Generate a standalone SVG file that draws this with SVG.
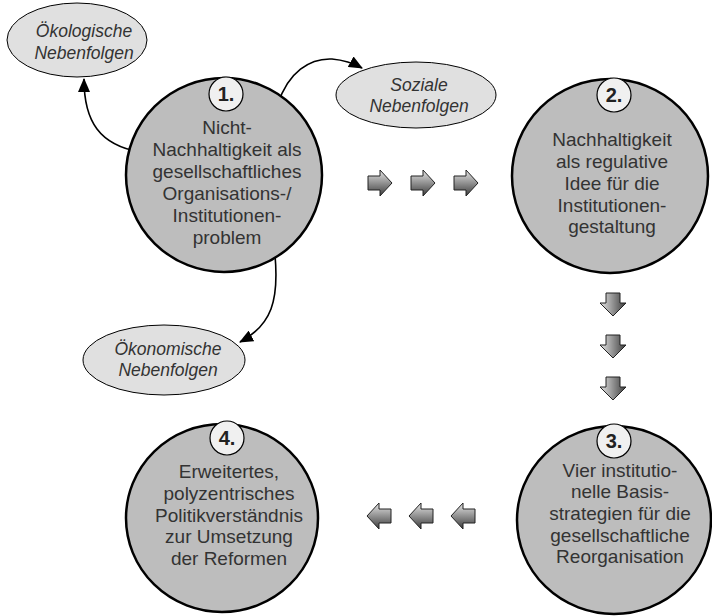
<svg xmlns="http://www.w3.org/2000/svg" width="712" height="616" viewBox="0 0 712 616">
<defs>
<linearGradient id="gv" x1="0" y1="0" x2="0" y2="1"><stop offset="0" stop-color="#e6e6e6"/><stop offset="1" stop-color="#3c3c3c"/></linearGradient>
<linearGradient id="gh" x1="0" y1="0" x2="1" y2="0"><stop offset="0" stop-color="#e6e6e6"/><stop offset="1" stop-color="#3c3c3c"/></linearGradient>
<marker id="ah" viewBox="0 0 14 12" refX="13" refY="6" markerWidth="14" markerHeight="12" markerUnits="userSpaceOnUse" orient="auto"><path d="M0,0 L14,6 L0,12 z" fill="#000"/></marker>
<path id="ar" d="M0,-7 L12,-7 L12,-13 L24,0 L12,13 L12,7 L0,7 z"/>
<path id="ad" d="M-7,0 L-7,10 L-13,10 L0,23 L13,10 L7,10 L7,0 z"/>
</defs>
<style>
.big{fill:#bdbdbd;stroke:#000;stroke-width:2.5}
.badge{fill:#f0f0f0;stroke:#000;stroke-width:1.2}
.bn{font-family:"Liberation Sans",Arial,sans-serif;font-weight:bold;font-size:20px;fill:#222;text-anchor:middle}
.t{font-family:"Liberation Sans",Arial,sans-serif;font-size:19px;fill:#333;text-anchor:middle}
.side{fill:#e0e0e0;stroke:#000;stroke-width:1}
.it{font-family:"Liberation Sans",Arial,sans-serif;font-style:italic;font-size:17.5px;fill:#333;text-anchor:middle}
.con{fill:none;stroke:#000;stroke-width:1.6;marker-end:url(#ah)}
.blk{stroke:#222;stroke-width:1}
</style>
<g id="connectors">
<path class="con" d="M140,152 C100,145 84,122 84,79"/>
<path class="con" d="M278,104 C288,72 310,58 332,59 C343,60 353,63 362,68"/>
<path class="con" d="M275,255 C279,300 272,325 240,342"/>
<g id="arrows-right">
<use href="#ar" x="368" y="183" fill="url(#gv)" class="blk"/>
<use href="#ar" x="411" y="183" fill="url(#gv)" class="blk"/>
<use href="#ar" x="454" y="183" fill="url(#gv)" class="blk"/>
</g>
<g id="arrows-down">
<use href="#ad" x="613" y="293" fill="url(#gh)" class="blk"/>
<use href="#ad" x="613" y="335" fill="url(#gh)" class="blk"/>
<use href="#ad" x="613" y="377" fill="url(#gh)" class="blk"/>
</g>
<g id="arrows-left">
<use href="#ar" transform="translate(475,516) scale(-1,1)" fill="url(#gv)" class="blk"/>
<use href="#ar" transform="translate(433,516) scale(-1,1)" fill="url(#gv)" class="blk"/>
<use href="#ar" transform="translate(391,516) scale(-1,1)" fill="url(#gv)" class="blk"/>
</g>
</g>
<g id="oeko">
<ellipse class="side" cx="77" cy="40" rx="70" ry="37"/>
<text class="it" x="84" y="37">Ökologische</text>
<text class="it" x="84" y="59">Nebenfolgen</text>
</g>
<g id="sozial">
<ellipse class="side" cx="416" cy="95" rx="80" ry="33"/>
<text class="it" x="419" y="91">Soziale</text>
<text class="it" x="419" y="112">Nebenfolgen</text>
</g>
<g id="oekonom">
<ellipse class="side" cx="164" cy="360" rx="81" ry="35"/>
<text class="it" x="168" y="355">Ökonomische</text>
<text class="it" x="168" y="376">Nebenfolgen</text>
</g>
<g id="n1">
<ellipse class="big" cx="224" cy="175" rx="98" ry="97"/>
<circle class="badge" cx="226" cy="94" r="17"/>
<text class="bn" x="226" y="101">1.</text>
<text class="t" x="227" y="134">Nicht-</text>
<text class="t" x="227" y="156">Nachhaltigkeit als</text>
<text class="t" x="227" y="178">gesellschaftliches</text>
<text class="t" x="227" y="200">Organisations-/</text>
<text class="t" x="227" y="222">Institutionen-</text>
<text class="t" x="227" y="244">problem</text>
</g>
<g id="n2">
<ellipse class="big" cx="610" cy="176" rx="98" ry="97"/>
<circle class="badge" cx="614" cy="95" r="17"/>
<text class="bn" x="614" y="102">2.</text>
<text class="t" x="612" y="146">Nachhaltigkeit</text>
<text class="t" x="612" y="168">als regulative</text>
<text class="t" x="612" y="190">Idee für die</text>
<text class="t" x="612" y="212">Institutionen-</text>
<text class="t" x="612" y="233">gestaltung</text>
</g>
<g id="n3">
<ellipse class="big" cx="614" cy="520" rx="97" ry="94"/>
<circle class="badge" cx="614" cy="441" r="17"/>
<text class="bn" x="614" y="448">3.</text>
<text class="t" x="620" y="477">Vier institutio-</text>
<text class="t" x="620" y="498">nelle Basis-</text>
<text class="t" x="620" y="520">strategien für die</text>
<text class="t" x="620" y="542">gesellschaftliche</text>
<text class="t" x="620" y="563">Reorganisation</text>
</g>
<g id="n4">
<ellipse class="big" cx="222" cy="518" rx="96" ry="94"/>
<circle class="badge" cx="227" cy="438" r="17"/>
<text class="bn" x="227" y="445">4.</text>
<text class="t" x="229" y="478">Erweitertes,</text>
<text class="t" x="229" y="500">polyzentrisches</text>
<text class="t" x="229" y="522">Politikverständnis</text>
<text class="t" x="229" y="543">zur Umsetzung</text>
<text class="t" x="229" y="565">der Reformen</text>
</g>
</svg>
